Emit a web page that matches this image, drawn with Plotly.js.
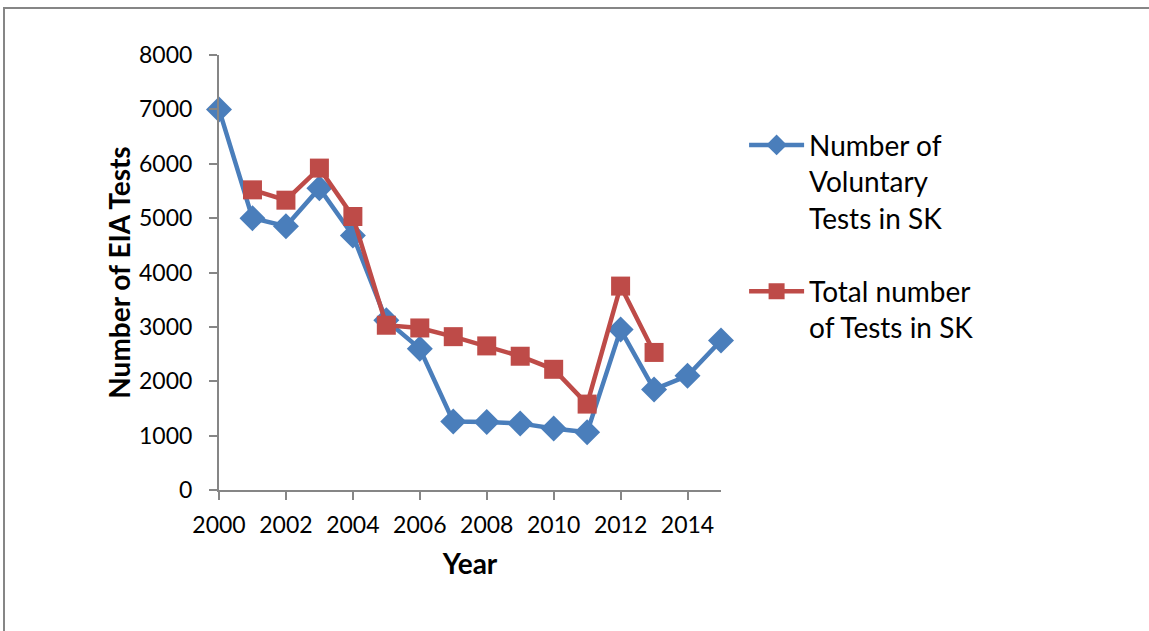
<!DOCTYPE html>
<html>
<head>
<meta charset="utf-8">
<script src="https://cdn.plot.ly/plotly-3.0.1.min.js"></script>
<style>
  html, body { margin: 0; padding: 0; background: #fff; }
  #frame { position: absolute; left: 3px; top: 7px; width: 1146px; height: 624px;
           border-left: 2px solid #868686; border-top: 2px solid #868686; box-sizing: border-box; }
  #chart { position: absolute; left: 0; top: 0; width: 1149px; height: 631px; }
</style>
</head>
<body>
<div id="frame"></div>
<div id="chart"></div>
<script>
const years = [2000, 2001, 2002, 2003, 2004, 2005, 2006, 2007, 2008, 2009, 2010, 2011, 2012, 2013, 2014, 2015];
const voluntaryTests = [7000, 5000, 4850, 5550, 4680, 3120, 2600, 1260, 1250, 1225, 1130, 1060, 2950, 1850, 2100, 2750];
const totalYears = [2001, 2002, 2003, 2004, 2005, 2006, 2007, 2008, 2009, 2010, 2011, 2012, 2013];
const totalTests = [5520, 5330, 5920, 5030, 3030, 2980, 2820, 2650, 2460, 2220, 1580, 3750, 2530];
const xTicks = [2000, 2002, 2004, 2006, 2008, 2010, 2012, 2014];
const yTicks = [0, 1000, 2000, 3000, 4000, 5000, 6000, 7000, 8000];
const seriesNames = ["Number of<br>Voluntary<br>Tests in SK", "Total number<br>of Tests in SK"];

const fontFam = "Lato, 'Open Sans', 'Liberation Sans', sans-serif";

const traces = [
  {
    x: years, y: voluntaryTests, type: 'scatter', mode: 'lines+markers',
    name: seriesNames[0], legendgroup: 'a',
    line: { color: '#4a7ebb', width: 4.5 },
    marker: { symbol: 'diamond', size: 20, color: '#4a7ebb' },
    cliponaxis: false
  },
  {
    x: totalYears, y: totalTests, type: 'scatter', mode: 'lines+markers',
    name: seriesNames[1], legendgroup: 'b',
    line: { color: '#be4b48', width: 4.5 },
    marker: { symbol: 'square', size: 19, color: '#be4b48' },
    cliponaxis: false
  }
];

const layout = {
  width: 1149, height: 631,
  paper_bgcolor: 'rgba(0,0,0,0)', plot_bgcolor: 'rgba(0,0,0,0)',
  margin: { l: 219, r: 428, t: 55, b: 141 },
  font: { family: fontFam, color: '#000' },
  showlegend: true,
  legend: {
    x: 1.046, xref: 'paper', xanchor: 'left', y: 0.85, yanchor: 'top',
    font: { size: 28, family: fontFam, color: '#000' },
    itemwidth: 55, tracegroupgap: 34, traceorder: 'grouped', valign: 'top',
    bgcolor: 'rgba(0,0,0,0)'
  },
  xaxis: {
    range: [2000, 2015], tickvals: xTicks, ticktext: xTicks.map(String),
    showgrid: false, zeroline: false, showline: true, linecolor: '#868686', linewidth: 2,
    ticks: 'outside', ticklen: 8, tickwidth: 2, tickcolor: '#868686',
    ticklabelstandoff: 5,
    tickfont: { size: 23, family: fontFam }, fixedrange: true,
    title: { text: '<b>Year</b>', font: { size: 28, family: fontFam }, standoff: 18 }
  },
  yaxis: {
    range: [0, 8000], tickvals: yTicks, ticktext: yTicks.map(String),
    showgrid: false, zeroline: false, showline: true, linecolor: '#868686', linewidth: 2,
    ticks: 'outside', ticklen: 8, tickwidth: 2, tickcolor: '#868686',
    ticklabelstandoff: 12,
    tickfont: { size: 23, family: fontFam }, fixedrange: true,
    title: { text: '<b>Number of EIA Tests</b>', font: { size: 28, family: fontFam }, standoff: 0 }
  }
};

Plotly.newPlot('chart', traces, layout, { displayModeBar: false, staticPlot: true });
</script>
</body>
</html>
